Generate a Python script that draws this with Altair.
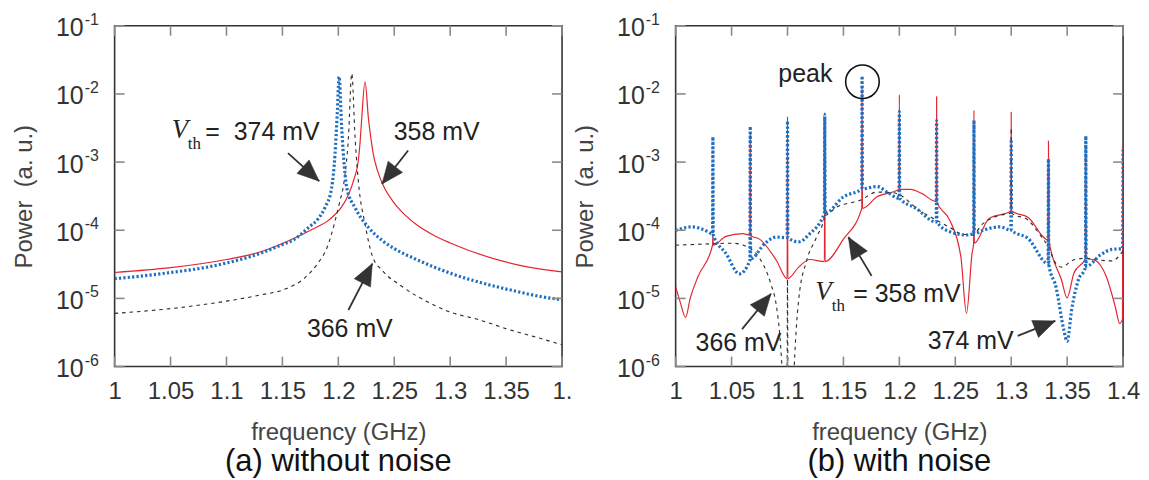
import math
import altair as alt
import pandas as pd

W, H = 449, 342
FONT = "Liberation Sans"
SERIF = "Liberation Serif"
RED = "#e3262f"
BLUE = "#1f6fc1"
BLACK = "#2a2a2a"

# ---------------- (a) without noise ----------------
a358_f = [1.000, 1.050, 1.100, 1.130, 1.156, 1.180, 1.190, 1.197, 1.203, 1.209, 1.214, 1.218, 1.2195, 1.2209, 1.2239,
          1.2269, 1.2290, 1.2313, 1.235, 1.240, 1.250, 1.260, 1.270, 1.286, 1.300, 1.346, 1.370, 1.400]
a358_p = [2.40e-5, 2.82e-5, 3.72e-5, 4.79e-5, 7.08e-5, 1.10e-4, 1.35e-4, 1.7e-4, 2.2e-4, 3.31e-4, 5.62e-4, 1.1e-3, 2.0e-3, 4.37e-3, 1.51e-2,
          4.37e-3, 2.3e-3, 1.3e-3, 7.5e-4, 4.6e-4, 2.5e-4, 1.65e-4, 1.2e-4, 8.3e-5, 6.5e-5, 3.55e-5, 2.88e-5, 2.45e-5]

a374_f = [1.000, 1.020, 1.050, 1.080, 1.100, 1.130, 1.150, 1.160, 1.1735, 1.182, 1.188, 1.194, 1.197, 1.199, 1.2007,
          1.203, 1.2055, 1.2076, 1.215, 1.2269, 1.240, 1.250, 1.270, 1.300, 1.330, 1.360, 1.380, 1.400]
a374_p = [1.95e-5, 2.09e-5, 2.40e-5, 2.82e-5, 3.31e-5, 4.57e-5, 6.17e-5, 7.24e-5, 1.10e-4, 1.48e-4, 2.14e-4, 4.17e-4, 1.29e-3, 5.0e-3, 1.78e-2,
          3.16e-3, 8.13e-4, 4.17e-4, 2.14e-4, 1.10e-4, 6.92e-5, 5.37e-5, 3.72e-5, 2.34e-5, 1.66e-5, 1.26e-5, 1.07e-5, 9.55e-6]

a366_f = [1.000, 1.050, 1.100, 1.130, 1.153, 1.170, 1.181, 1.190, 1.197, 1.201, 1.205, 1.209, 1.212, 1.215, 1.218,
          1.2239, 1.2304, 1.240, 1.2566, 1.2862, 1.300, 1.325, 1.350, 1.375, 1.400]
a366_p = [6.03e-6, 7.08e-6, 9.12e-6, 1.12e-5, 1.38e-5, 2.0e-5, 3.16e-5, 5.62e-5, 1.35e-4, 2.51e-4, 5.01e-4, 2.24e-3, 2.0e-2, 2.24e-3, 5.01e-4,
          1.23e-4, 4.2e-5, 2.5e-5, 1.51e-5, 7.9e-6, 6.3e-6, 4.9e-6, 3.6e-6, 2.75e-6, 2.09e-6]

# ---------------- (b) with noise ----------------
b358_f = [1.000, 1.004, 1.0089, 1.013, 1.020, 1.0330, 1.0333, 1.0336, 1.045, 1.060, 1.0664, 1.0667, 1.0670, 1.075, 1.090,
          1.0997, 1.1000, 1.1003, 1.110, 1.120, 1.1330, 1.1333, 1.1336, 1.150, 1.1664, 1.1667, 1.1670, 1.180,
          1.1997, 1.2000, 1.2003, 1.210, 1.220, 1.2330, 1.2333, 1.2336, 1.245, 1.255, 1.2600, 1.265,
          1.2664, 1.2667, 1.2670, 1.280, 1.2997, 1.3000, 1.3003, 1.315, 1.3330, 1.3333, 1.3336, 1.345, 1.3500, 1.356,
          1.3664, 1.3667, 1.3670, 1.375, 1.385, 1.393, 1.397, 1.3995, 1.4000]
b358_p = [1.48e-5, 8.91e-6, 5.25e-6, 1.0e-5, 2.09e-5, 6.03e-5, 8.91e-5, 6.03e-5, 8.13e-5, 8.91e-5, 8.51e-5, 2.51e-3, 8.32e-5, 7.41e-5, 3.63e-5,
          1.95e-5, 4.68e-3, 1.95e-5, 2.88e-5, 3.72e-5, 3.47e-5, 3.16e-3, 3.47e-5, 7.41e-5, 2.09e-4, 1.26e-2, 2.09e-4, 3.09e-4,
          3.98e-4, 9.77e-3, 3.98e-4, 3.98e-4, 3.47e-4, 2.63e-4, 9.12e-3, 2.63e-4, 1.41e-4, 4.07e-5, 6.03e-6, 4.57e-5,
          6.46e-5, 5.75e-3, 6.46e-5, 1.48e-4, 1.91e-4, 5.37e-3, 1.91e-4, 1.55e-4, 7.24e-5, 2.04e-3, 7.24e-5, 1.86e-5, 1.02e-5, 2.34e-5,
          3.89e-5, 1.58e-3, 3.89e-5, 3.63e-5, 2.09e-5, 7.59e-6, 4.27e-6, 5.01e-6, 1.78e-3]

b374_f = [1.000, 1.015, 1.025, 1.0330, 1.0333, 1.0336, 1.045, 1.057, 1.0664, 1.0667, 1.0670, 1.080, 1.090,
          1.0997, 1.1000, 1.1003, 1.110, 1.120, 1.1330, 1.1333, 1.1336, 1.150, 1.1664, 1.1667, 1.1670, 1.180, 1.190,
          1.1997, 1.2000, 1.2003, 1.215, 1.2330, 1.2333, 1.2336, 1.245, 1.260, 1.2664, 1.2667, 1.2670, 1.275, 1.290,
          1.2997, 1.3000, 1.3003, 1.315, 1.3330, 1.3333, 1.3336, 1.340, 1.347, 1.350, 1.354, 1.360,
          1.3664, 1.3667, 1.3670, 1.380, 1.390, 1.3995, 1.4000]
b374_p = [1.0e-4, 1.12e-4, 1.02e-4, 8.91e-5, 2.34e-3, 8.51e-5, 4.57e-5, 2.29e-5, 3.63e-5, 3.31e-3, 3.80e-5, 6.46e-5, 7.94e-5,
          7.76e-5, 3.98e-3, 7.76e-5, 6.76e-5, 8.91e-5, 1.78e-4, 4.90e-3, 1.78e-4, 3.09e-4, 4.07e-4, 1.82e-2, 4.07e-4, 4.37e-4, 3.55e-4,
          2.95e-4, 5.50e-3, 2.95e-4, 2.09e-4, 1.32e-4, 4.07e-3, 1.32e-4, 9.55e-5, 8.51e-5, 8.91e-5, 4.07e-3, 8.91e-5, 1.0e-4, 1.12e-4,
          1.0e-4, 2.14e-3, 1.0e-4, 7.59e-5, 3.24e-5, 1.10e-3, 3.16e-5, 1.48e-5, 3.47e-6, 2.34e-6, 6.76e-6, 1.86e-5,
          2.88e-5, 2.40e-3, 2.95e-5, 4.37e-5, 5.25e-5, 5.37e-5, 1.66e-3]

b366_f = [1.000, 1.030, 1.050, 1.0667, 1.075, 1.085, 1.090, 1.093, 1.096, 1.0995, 1.1000, 1.1005, 1.1045, 1.1060, 1.108,
          1.110, 1.117, 1.126, 1.1330, 1.1333, 1.1336, 1.144, 1.165, 1.180, 1.195, 1.200, 1.218, 1.233, 1.245, 1.255,
          1.265, 1.275, 1.290, 1.2997, 1.3000, 1.3003, 1.315, 1.325, 1.333, 1.340, 1.345, 1.355, 1.367, 1.380, 1.390, 1.400]
b366_p = [6.03e-5, 6.31e-5, 6.46e-5, 5.37e-5, 3.89e-5, 1.66e-5, 7.94e-6, 3.09e-6, 6.31e-7, 2.51e-7, 1.91e-5, 2.51e-7, 2.51e-7, 1.0e-6, 3.98e-6,
          9.55e-6, 3.55e-5, 7.94e-5, 1.58e-4, 5.25e-3, 1.66e-4, 2.19e-4, 2.75e-4, 3.63e-4, 3.55e-4, 3.31e-4, 1.95e-4, 1.41e-4, 1.10e-4, 8.91e-5,
          8.51e-5, 1.26e-4, 1.66e-4, 1.78e-4, 3.16e-3, 1.78e-4, 1.41e-4, 8.91e-5, 5.75e-5, 3.24e-5, 2.88e-5, 3.63e-5, 3.89e-5, 3.63e-5, 3.55e-5, 5.01e-5]

# ---------------- axes ----------------
x_ticks = [1.0, 1.05, 1.1, 1.15, 1.2, 1.25, 1.3, 1.35, 1.4]
y_ticks = [1e-1, 1e-2, 1e-3, 1e-4, 1e-5, 1e-6]
y_exp = ["-1", "-2", "-3", "-4", "-5", "-6"]

# ---------------- annotations ----------------
a_text_f = [1.0811, 1.2495, 1.1719]
a_text_p = [2.14e-3, 2.14e-3, 2.69e-6]
a_text_t = ["=\u00a0\u00a0374 mV", "358 mV", "366 mV"]
a_V_f, a_V_p = [1.0584], [2.24e-3]
a_th_f, a_th_p = [1.0712], [1.55e-3]
a_arrow_f1 = [1.155, 1.2624, 1.209]
a_arrow_p1 = [1.35e-3, 1.48e-3, 6.76e-6]
a_arrow_f2 = [1.1829, 1.239, 1.2304]
a_arrow_p2 = [5.25e-4, 4.79e-4, 3.24e-5]

b_text_f = [1.0918, 1.1588, 1.0178, 1.2254]
b_text_p = [1.48e-2, 8.71e-6, 1.70e-6, 1.82e-6]
b_text_t = ["peak", "= 358 mV", "366 mV", "374 mV"]
b_V_f, b_V_p = [1.1322], [9.33e-6]
b_th_f, b_th_p = [1.1455], [6.61e-6]
b_arrow_f1 = [1.0594, 1.1752, 1.3058]
b_arrow_p1 = [3.55e-6, 2.14e-5, 2.82e-6]
b_arrow_f2 = [1.0853, 1.1544, 1.3394]
b_arrow_p2 = [1.17e-5, 7.94e-5, 4.68e-6]
b_circle_f, b_circle_p = [1.167], [1.51e-2]

xs = alt.Scale(domain=[1.0, 1.4], nice=False, zero=False)
ys = alt.Scale(type="log", domain=[1e-6, 1e-1], nice=False)
ARROW = "M0,0L0.42,1L-0.42,1Z"


def angles(f1, p1, f2, p2):
    out = []
    for a, b, c, d in zip(f1, p1, f2, p2):
        dx = (c - a) / 0.4 * W
        dy = -(math.log10(d) - math.log10(b)) / 5 * H
        out.append(math.degrees(math.atan2(dx, -dy)) % 360)
    return out


def panel(series, texts, V, th, arrows, last_label, caption, circle=None):
    label_expr = ("datum.value >= 1.399 ? '%s' : format(datum.value, '~g')" % last_label)
    xaxis = alt.Axis(values=x_ticks, labelExpr=label_expr, labelFont=FONT, labelFontSize=24,
                     labelColor="#333", labelPadding=13, labelFlush=False, ticks=False, tickSize=0,
                     domain=False, grid=False, title="frequency (GHz)", titleFont=FONT,
                     titleFontSize=24, titleColor="#444", titleFontWeight="normal",
                     titleX=W / 2, titleY=66, titleBaseline="middle")
    yaxis = alt.Axis(labels=False, ticks=False, domain=False, grid=False,
                     title="Power\u00a0\u00a0(a. u.)", titleFont=FONT, titleFontSize=24,
                     titleColor="#444", titleFontWeight="normal", titleAngle=270,
                     titleX=-90, titleY=H / 2, titleBaseline="middle", titleAlign="center")

    def X(field="f"):
        return alt.X(field + ":Q", scale=xs, axis=xaxis)

    def Y(field="p"):
        return alt.Y(field + ":Q", scale=ys, axis=yaxis)

    layers = []
    for f, p, color, sw, dash, interp in series:
        df = pd.DataFrame({"f": f, "p": p, "i": list(range(len(f)))})
        kw = dict(color=color, strokeWidth=sw, clip=True, interpolate=interp)
        if dash:
            kw["strokeDash"] = dash
        layers.append(alt.Chart(df).mark_line(**kw).encode(x=X(), y=Y(), order="i:Q"))
    yt = pd.DataFrame({"p": y_ticks, "e": y_exp, "b": ["10"] * len(y_ticks)})
    xt = pd.DataFrame({"f": x_ticks})
    tick = dict(color="#8a8a8a", strokeWidth=1.6)
    layers += [
        alt.Chart(yt).mark_rule(**tick).encode(y=Y(), x=alt.value(0), x2=alt.value(10)),
        alt.Chart(yt).mark_rule(**tick).encode(y=Y(), x=alt.value(W - 10), x2=alt.value(W)),
        alt.Chart(xt).mark_rule(**tick).encode(x=X(), y=alt.value(H), y2=alt.value(H - 10)),
        alt.Chart(xt).mark_rule(**tick).encode(x=X(), y=alt.value(0), y2=alt.value(10)),
        alt.Chart(yt).mark_text(font=FONT, fontSize=25, color="#333", align="right",
                                baseline="alphabetic", dy=10.5).encode(y=Y(), x=alt.value(-31), text="b:N"),
        alt.Chart(yt).mark_text(font=FONT, fontSize=16, color="#333", align="left",
                                baseline="alphabetic", dy=-1, dx=1).encode(y=Y(), x=alt.value(-31), text="e:N"),
    ]
    tf, tp, tt = texts
    layers.append(alt.Chart(pd.DataFrame({"f": tf, "p": tp, "t": tt})).mark_text(
        font=FONT, fontSize=25, color="#222", align="left", baseline="alphabetic").encode(
        x=X(), y=Y(), text="t:N"))
    layers.append(alt.Chart(pd.DataFrame({"f": V[0], "p": V[1], "t": ["V"]})).mark_text(
        font=SERIF, fontSize=27, fontStyle="italic", color="#222", align="center",
        baseline="alphabetic").encode(x=X(), y=Y(), text="t:N"))
    layers.append(alt.Chart(pd.DataFrame({"f": th[0], "p": th[1], "t": ["th"]})).mark_text(
        font=SERIF, fontSize=17, color="#222", align="center",
        baseline="alphabetic").encode(x=X(), y=Y(), text="t:N"))
    f1, p1, f2, p2 = arrows
    adf = pd.DataFrame({"f": f1, "p": p1, "f2": f2, "p2": p2, "ang": angles(f1, p1, f2, p2)})
    layers.append(alt.Chart(adf).mark_rule(color="#333", strokeWidth=1.8).encode(
        x=X(), y=Y(), x2="f2:Q", y2="p2:Q"))
    layers.append(alt.Chart(adf).mark_point(shape=ARROW, size=1900, filled=True, fill="#333",
                                            stroke="#333", strokeWidth=0.5, opacity=1).encode(
        x=X("f2"), y=Y("p2"), angle=alt.Angle("ang:Q", scale=None)))
    if circle:
        layers.append(alt.Chart(pd.DataFrame({"f": circle[0], "p": circle[1]})).mark_point(
            shape="circle", size=1134, filled=False, stroke="#111", strokeWidth=1.6, opacity=1).encode(
            x=X(), y=Y()))
    return alt.layer(*layers).properties(
        width=W, height=H,
        title=alt.TitleParams(text=caption, orient="bottom", anchor="middle", fontSize=31,
                              font=FONT, fontWeight="normal", color="#111", offset=3))


left = panel(
    [(a358_f, a358_p, RED, 1.2, None, "monotone"),
     (a366_f, a366_p, BLACK, 1.1, [3.5, 4], "monotone"),
     (a374_f, a374_p, BLUE, 3.2, [2.2, 2.2], "monotone")],
    (a_text_f, a_text_p, a_text_t), (a_V_f, a_V_p), (a_th_f, a_th_p),
    (a_arrow_f1, a_arrow_p1, a_arrow_f2, a_arrow_p2), "1.\u00a0\u00a0", "(a) without noise")

right = panel(
    [(b358_f, b358_p, RED, 1.2, None, "monotone"),
     (b366_f, b366_p, BLACK, 1.1, [3.5, 4], "monotone"),
     (b374_f, b374_p, BLUE, 3.2, [2.2, 2.2], "monotone")],
    (b_text_f, b_text_p, b_text_t), (b_V_f, b_V_p), (b_th_f, b_th_p),
    (b_arrow_f1, b_arrow_p1, b_arrow_f2, b_arrow_p2), "1.4", "(b) with noise",
    circle=(b_circle_f, b_circle_p))

chart = alt.hconcat(left, right, spacing=114, bounds="flush").properties(
    padding={"left": 4, "top": 2, "right": 0, "bottom": 0}
).configure_view(stroke="#333", strokeWidth=1.6)

chart.save("out.html", embed_options={"renderer": "svg", "actions": False})
